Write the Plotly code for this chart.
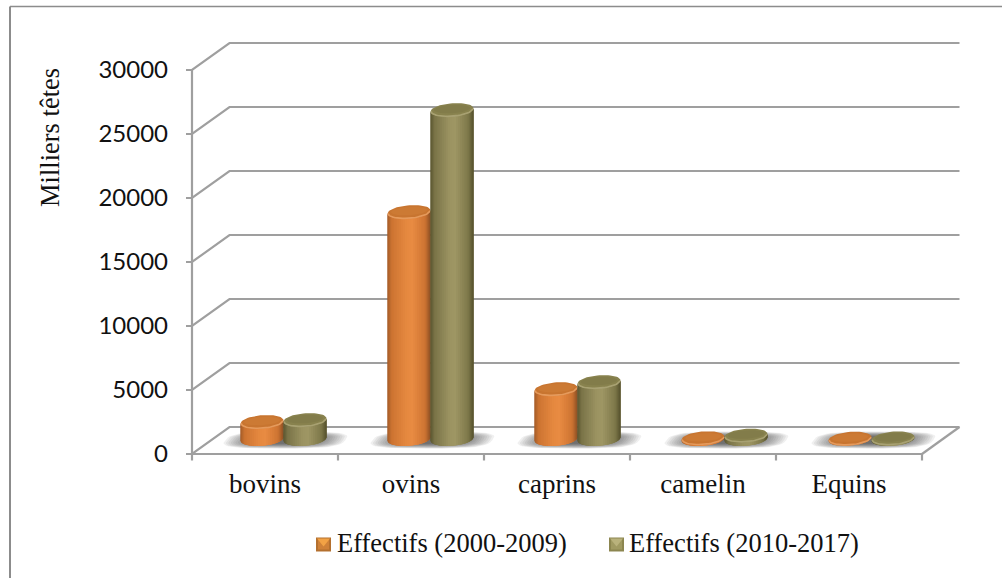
import numpy as np
import plotly.graph_objects as go

# Livestock headcounts, thousands of animals
categories = ["bovins", "ovins", "caprins", "camelin", "Equins"]
effectifs_2000_2009 = [1330, 17730, 3900, 60, 30]
effectifs_2010_2017 = [1480, 25700, 4450, 270, 50]
series_names = ["Effectifs (2000-2009)", "Effectifs (2010-2017)"]
value_ticks = [0, 5000, 10000, 15000, 20000, 25000, 30000]
axis_title = "Milliers têtes"

W, H = 1002, 578
LEFT, RIGHT, TOP, BOTTOM = 192, 922, 70, 454
# The plot area is a little larger than the front axes, to hold the back wall
PL, PR, PT, PB = 184, 966, 38, 461

# Pixel sizes expressed in axis units
CAT_PX = (RIGHT - LEFT) / len(categories)
VAL_PX = 30000 / (BOTTOM - TOP)
def px_x(p): return p / CAT_PX
def px_y(p): return p * VAL_PX

# Oblique depth of the floor and walls
DEPTH_X, DEPTH_Y = px_x(37.5), px_y(27)
GROUP_STEP = px_x(147)
FIRST_GROUP = px_x(283.5 - LEFT)
CYL_HALF = px_x(21.5)
ELL_H = px_y(7)
ELL_SHEAR = px_x(5)
ELL_U = np.sqrt(CYL_HALF ** 2 - ELL_SHEAR ** 2)
FLOOR_Y = px_y(15)
PHI = np.arctan2(ELL_SHEAR, ELL_U)

GRID = "#9F9F9F"
SERIF = "Liberation Serif"
SANS = "Lato"

def ramp(stops, p):
    """Linear colour ramp over p in [-1, 1]."""
    ps = [s[0] for s in stops]
    chans = [np.interp(p, ps, [s[1][k] for s in stops]) for k in range(3)]
    return "rgb(%d,%d,%d)" % tuple(int(round(c)) for c in chans)

BODY = [
    [(-1, (165, 92, 40)), (-.8, (205, 116, 50)), (-.1, (230, 137, 64)), (.15, (232, 139, 66)),
     (.75, (205, 116, 50)), (1, (140, 80, 36))],
    [(-1, (92, 87, 48)), (-.8, (122, 116, 72)), (-.1, (156, 148, 98)), (.15, (158, 150, 100)),
     (.75, (126, 120, 74)), (1, (86, 81, 44))],
]
TOP_EDGE = ["#E59A5C", "#A8A172"]
TOP_BACK = ["#C87530", "#88824E"]
TOP_FILL = ["#CC7A34", "#827C4A"]

fig = go.Figure()

def add_poly(xs, ys, color, line=0.0):
    fig.add_trace(go.Scatter(
        x=xs, y=ys, mode="lines", fill="toself", fillcolor=color,
        line=dict(color=color, width=line), hoverinfo="skip", showlegend=False,
    ))

# Back wall, floor outline, value ticks and the two front axes
n_cat = len(categories)
wall_x, wall_y = [], []
for v in value_ticks:
    wall_x += [-px_x(6), 0, DEPTH_X, n_cat + DEPTH_X, None]
    wall_y += [v, v, v + DEPTH_Y, v + DEPTH_Y, None]
wall_x += [n_cat, n_cat + DEPTH_X, None, 0, 0, None, -px_x(6), n_cat, None]
wall_y += [0, DEPTH_Y, None, 0, 30000, None, 0, 0, None]
for i in range(n_cat + 1):
    wall_x += [i, i, None]
    wall_y += [0, -px_y(6.5), None]
fig.add_trace(go.Scatter(x=wall_x, y=wall_y, mode="lines", line=dict(color=GRID, width=2.2),
                         hoverinfo="skip", showlegend=False))

group_centres = [FIRST_GROUP + GROUP_STEP * i for i in range(n_cat)]

# Soft shadow pooled under each pair of cylinders
t = np.linspace(0, 2 * np.pi, 49)
LAYERS = 16
for k in range(LAYERS):
    s = 1 - k / LAYERS * 0.62
    xs, ys = [], []
    for c in group_centres:
        cx = np.sign(np.cos(t)) * np.abs(np.cos(t)) ** 0.6
        sy = np.sign(np.sin(t)) * np.abs(np.sin(t)) ** 0.6
        xs += list(c + px_x(2) + px_x(60) * s * cx + px_x(7) * s * sy) + [None]
        ys += list(px_y(14) + px_y(8.5) * s * sy) + [None]
    add_poly(xs, ys, "rgba(60,60,60,0.08)")

# Cylinder bodies: overlapping strips painted left to right, shaded across the width
N = 32
edges = np.linspace(PHI + np.pi, PHI + 2 * np.pi, N + 1)
def ell_x(a): return ELL_U * np.cos(a) + ELL_SHEAR * np.sin(a)
def ell_y(a): return ELL_H * np.sin(a)

values_by_series = [effectifs_2000_2009, effectifs_2010_2017]
side = [-1, 1]
for s, values in enumerate(values_by_series):
    centres = [c + side[s] * CYL_HALF for c in group_centres]
    for j in range(N):
        a0, a1 = edges[j], edges[min(j + 3, N)]
        arc = np.linspace(a0, a1, 5)
        p = ell_x((edges[j] + edges[j + 1]) / 2) / CYL_HALF
        xs, ys = [], []
        for c, v in zip(centres, values):
            xs += list(c + ell_x(arc)) + list(c + ell_x(arc[::-1])) + [None]
            ys += list(FLOOR_Y + ell_y(arc)) + list(FLOOR_Y + v + ell_y(arc[::-1])) + [None]
        add_poly(xs, ys, ramp(BODY[s], p))

    # Caps: a rim, then an inset darker disc
    ang = np.linspace(0, 2 * np.pi, 61)
    xs, ys = [], []
    for c, v in zip(centres, values):
        xs += list(c + ell_x(ang)) + [None]
        ys += list(FLOOR_Y + v + ell_y(ang)) + [None]
    add_poly(xs, ys, TOP_BACK[s])
    front = np.linspace(PHI + np.pi, PHI + 2 * np.pi, 31)
    xs, ys = [], []
    for c, v in zip(centres, values):
        xs += list(c + 0.97 * ell_x(front)) + [None]
        ys += list(FLOOR_Y + v + 0.9 * ell_y(front)) + [None]
    fig.add_trace(go.Scatter(x=xs, y=ys, mode="lines", line=dict(color=TOP_EDGE[s], width=1.6),
                             hoverinfo="skip", showlegend=False))
    xs, ys = [], []
    for c, v in zip(centres, values):
        xs += list(c + 0.84 * ell_x(ang)) + [None]
        ys += list(FLOOR_Y + v + px_y(1) + 0.62 * ell_y(ang)) + [None]
    add_poly(xs, ys, TOP_FILL[s])

# Pixel helpers for items placed on the page rather than on the axes
def fx(p): return (p - PL) / (PR - PL)
def fy(p): return (PB - p) / (PB - PT)

LEGEND_BASE = ["#B4702F", "#8C8650"]
LEGEND_TOP = ["#F2A245", "#B9B27C"]
LEGEND_SIDE = ["#CF8138", "#A09A62"]
legend_boxes = [(316, 331), (609, 624)]
legend_text_x = [335, 627]
LEG_T, LEG_B = 537.5, 551.5

def tri(x0, x1):
    mx, my = (x0 + x1) / 2, (LEG_T + LEG_B) / 2 + 2
    return (f"M {fx(x0+1)} {fy(LEG_T+1)} L {fx(x1-1)} {fy(LEG_T+1)} L {fx(mx)} {fy(my)} Z")

shapes = [
    dict(type="line", xref="paper", yref="paper", x0=fx(10), x1=fx(W), y0=fy(6.5), y1=fy(6.5),
         line=dict(color="#8C8C8C", width=1.5)),
    dict(type="line", xref="paper", yref="paper", x0=fx(10), x1=fx(10), y0=fy(6.5), y1=fy(H),
         line=dict(color="#8C8C8C", width=2)),
]
annotations = [
    dict(text=axis_title, xref="paper", yref="paper", x=fx(50), y=fy(138), showarrow=False,
         textangle=-90, xanchor="center", yanchor="middle",
         font=dict(family=SERIF, size=26.5, color="#111111")),
]
for i, name in enumerate(series_names):
    x0, x1 = legend_boxes[i]
    shapes.append(dict(type="rect", xref="paper", yref="paper", x0=fx(x0), x1=fx(x1),
                       y0=fy(LEG_B), y1=fy(LEG_T), fillcolor=LEGEND_BASE[i], line=dict(width=0)))
    shapes.append(dict(type="rect", xref="paper", yref="paper", x0=fx(x0 + 2), x1=fx(x1 - 2),
                       y0=fy(LEG_B - 2), y1=fy(LEG_T + 2), fillcolor=LEGEND_SIDE[i], line=dict(width=0)))
    shapes.append(dict(type="path", xref="paper", yref="paper", path=tri(x0, x1),
                       fillcolor=LEGEND_TOP[i], line=dict(width=0)))
    annotations.append(dict(text=name, xref="paper", yref="paper", x=fx(legend_text_x[i]), y=fy(543),
                            showarrow=False, xanchor="left", yanchor="middle",
                            font=dict(family=SERIF, size=26.5, color="#111111")))

fig.update_layout(
    width=W, height=H, autosize=False, showlegend=False,
    margin=dict(l=PL, r=W - PR, t=PT, b=H - PB, pad=0),
    paper_bgcolor="white", plot_bgcolor="white",
    shapes=shapes, annotations=annotations,
    xaxis=dict(
        range=[(PL - LEFT) / CAT_PX, (PR - LEFT) / CAT_PX], tickmode="array",
        tickvals=[i + 0.5 for i in range(n_cat)], ticktext=categories,
        ticks="", showgrid=False, zeroline=False, showline=False,
        tickfont=dict(family=SERIF, size=27, color="#111111"), ticklabelstandoff=4,
    ),
    yaxis=dict(
        range=[(BOTTOM - PB) * VAL_PX, (BOTTOM - PT) * VAL_PX], tickmode="array",
        tickvals=value_ticks, ticktext=[str(v) for v in value_ticks],
        ticks="", showgrid=False, zeroline=False, showline=False,
        tickfont=dict(family=SANS, size=24, color="#111111"), ticklabelstandoff=15,
    ),
)

fig.write_html("out.html")
